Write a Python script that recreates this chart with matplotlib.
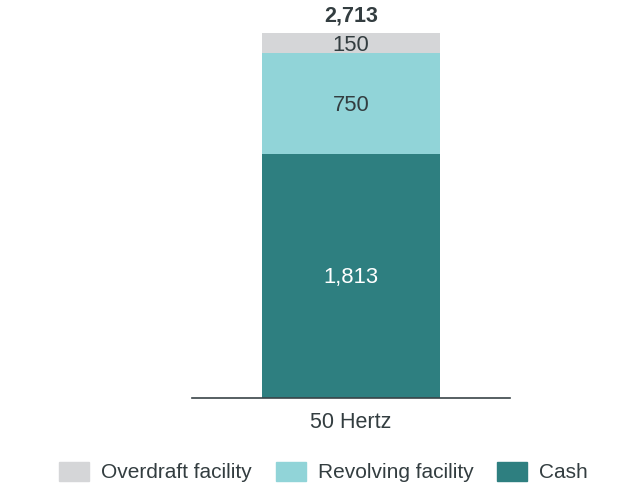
import matplotlib.pyplot as plt
import matplotlib.patches as mpatches

plt.rcParams['font.family'] = ['Liberation Sans', 'DejaVu Sans']

# data
category = '50 Hertz'
series_names = ['Cash', 'Revolving facility', 'Overdraft facility']
values = [1813, 750, 150]
colors = ['#2e7f80', '#91d4d8', '#d5d6d8']
label_colors = ['white', '#333d40', '#333d40']
total = sum(values)

text_color = '#333d40'

fig = plt.figure(figsize=(6.37, 4.87), dpi=100)
ax = fig.add_axes([192 / 637, (487 - 398) / 487, 318 / 637, 398 / 487])

bottom = 0
for val, col, lc in zip(values, colors, label_colors):
    ax.bar(0, val, bottom=bottom, width=0.557, color=col, edgecolor='none')
    ax.text(0, bottom + val / 2 - 14, f'{val:,}', ha='center', va='center',
            fontsize=15.8, color=lc)
    bottom += val

ax.text(0, total + 50, f'{total:,}', ha='center', va='bottom',
        fontsize=15.5, fontweight='bold', color=text_color)

ax.set_xlim(-0.5, 0.5)
ax.set_ylim(0, 2960)
ax.set_xticks([0])
ax.set_xticklabels([category], fontsize=15.5, color=text_color)
ax.tick_params(axis='x', length=0, pad=10)
ax.set_yticks([])
for side in ['top', 'right', 'left']:
    ax.spines[side].set_visible(False)
ax.spines['bottom'].set_color('#3a4448')
ax.spines['bottom'].set_linewidth(1.2)

# legend in reverse order: overdraft, revolving, cash
handles = [mpatches.Patch(color=c, label=n) for n, c in zip(series_names[::-1], colors[::-1])]
fig.legend(handles=handles, loc='center', bbox_to_anchor=(0.5 + 5 / 637, 1 - 472 / 487),
           ncol=3, frameon=False, fontsize=15, handlelength=1.44, handleheight=1.05,
           handletextpad=0.57, columnspacing=1.15, labelcolor=text_color)

fig.savefig('out.png', dpi=100)
